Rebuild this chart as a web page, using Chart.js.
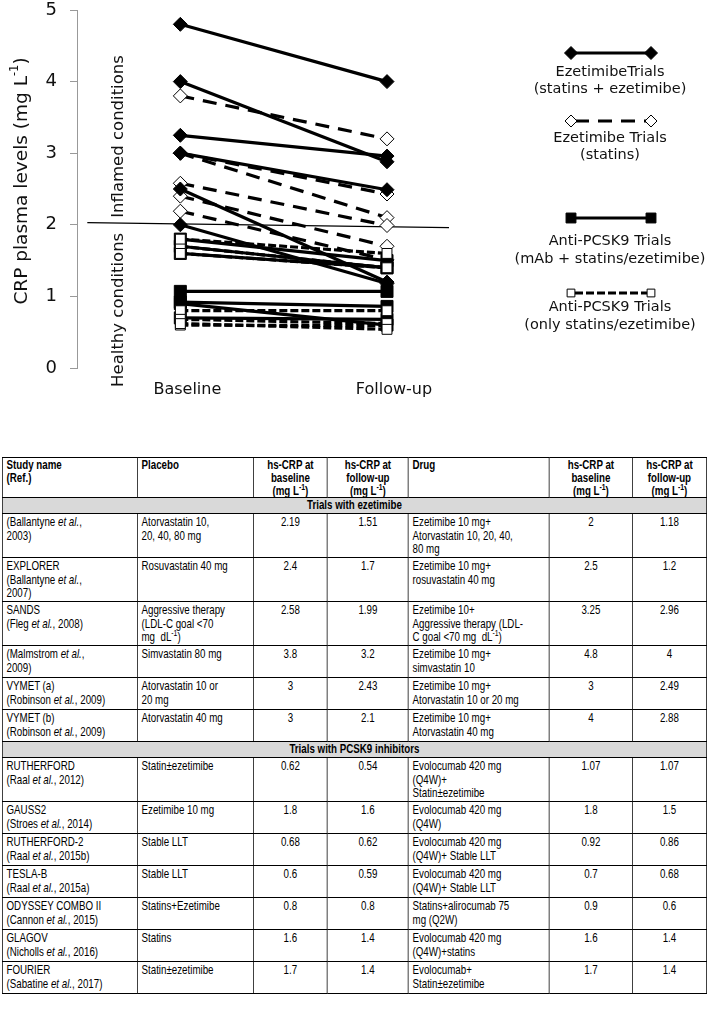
<!DOCTYPE html>
<html>
<head>
<meta charset="utf-8">
<script src="https://cdn.jsdelivr.net/npm/chart.js@4.4.0/dist/chart.umd.min.js"></script>
<style>
  html, body { margin: 0; padding: 0; background: #fff; }
  body { position: relative; width: 709px; height: 1016px; overflow: hidden; }
  #chartBox { position: absolute; left: 0; top: 0; width: 709px; height: 400px; }
  #crpTable {
    position: absolute; left: 2px; top: 457px; width: 938.7px;
    transform-origin: 0 0; transform: scaleX(0.75);
    border-collapse: collapse; table-layout: fixed;
    font-family: "Liberation Sans", Arial, sans-serif;
    font-size: 13px; line-height: 13.6px; color: #000;
  }
  #crpTable td { border-style: solid; border-color: #000; border-width: 1px 1.6px; padding: 1px 5px 1px 5px; vertical-align: top; white-space: nowrap; overflow: hidden; }
  #crpTable td.num { text-align: center; }
  #crpTable tr.head td { font-weight: bold; line-height: 13px; padding: 0 5px 0 5px; }
  #crpTable tr.band td { background: #d9d9d9; font-weight: bold; text-align: center; padding: 0 5px 1px 5px; }
  sup { font-size: 70%; line-height: 0; vertical-align: super; }
</style>
</head>
<body>
<div id="chartBox"><canvas id="crpChart" width="709" height="400"></canvas></div>
<table id="crpTable"></table>
<script>
// time points and axis
const timePoints = ['Baseline', 'Follow-up'];
const timeX = [0, 1];
const yTicks = [0, 1, 2, 3, 4, 5];

// healthy / inflamed threshold line (~2 mg/L)
const thresholdX = [-0.45, 1.30];
const thresholdY = [2.03, 1.96];

// trials with ezetimibe
const ezeStudies = [
  '(Ballantyne <i>et al.</i>,<br>2003)',
  'EXPLORER<br>(Ballantyne <i>et al.</i>,<br>2007)',
  'SANDS<br>(Fleg <i>et al.</i>, 2008)',
  '(Malmstrom <i>et al.</i>,<br>2009)',
  'VYMET (a)<br>(Robinson <i>et al.</i>, 2009)',
  'VYMET (b)<br>(Robinson <i>et al.</i>, 2009)'
];
const ezePlaceboNames = [
  'Atorvastatin 10,<br>20, 40, 80 mg',
  'Rosuvastatin 40 mg',
  'Aggressive therapy<br>(LDL-C goal &lt;70<br>mg &nbsp;dL<sup>-1</sup>)',
  'Simvastatin 80 mg',
  'Atorvastatin 10 or<br>20 mg',
  'Atorvastatin 40 mg'
];
const ezePlaceboBase = [2.19, 2.4, 2.58, 3.8, 3, 3];
const ezePlaceboFollow = [1.51, 1.7, 1.99, 3.2, 2.43, 2.1];
const ezeDrugNames = [
  'Ezetimibe 10 mg+<br>Atorvastatin 10, 20, 40,<br>80 mg',
  'Ezetimibe 10 mg+<br>rosuvastatin 40 mg',
  'Ezetimibe 10+<br>Aggressive therapy (LDL-<br>C goal &lt;70 mg &nbsp;dL<sup>-1</sup>)',
  'Ezetimibe 10 mg+<br>simvastatin 10',
  'Ezetimibe 10 mg+<br>Atorvastatin 10 or 20 mg',
  'Ezetimibe 10 mg+<br>Atorvastatin 40 mg'
];
const ezeDrugBase = [2, 2.5, 3.25, 4.8, 3, 4];
const ezeDrugFollow = [1.18, 1.2, 2.96, 4, 2.49, 2.88];

// trials with PCSK9 inhibitors
const pcskStudies = [
  'RUTHERFORD<br>(Raal <i>et al.</i>, 2012)',
  'GAUSS2<br>(Stroes <i>et al.</i>, 2014)',
  'RUTHERFORD-2<br>(Raal <i>et al.</i>, 2015b)',
  'TESLA-B<br>(Raal <i>et al.</i>, 2015a)',
  'ODYSSEY COMBO II<br>(Cannon <i>et al.</i>, 2015)',
  'GLAGOV<br>(Nicholls <i>et al.</i>, 2016)',
  'FOURIER<br>(Sabatine <i>et al.</i>, 2017)'
];
const pcskPlaceboNames = ['Statin±ezetimibe', 'Ezetimibe 10 mg', 'Stable LLT', 'Stable LLT', 'Statins+Ezetimibe', 'Statins', 'Statin±ezetimibe'];
const pcskPlaceboBase = [0.62, 1.8, 0.68, 0.6, 0.8, 1.6, 1.7];
const pcskPlaceboFollow = [0.54, 1.6, 0.62, 0.59, 0.8, 1.4, 1.4];
const pcskDrugNames = [
  'Evolocumab 420 mg<br>(Q4W)+<br>Statin±ezetimibe',
  'Evolocumab 420 mg<br>(Q4W)',
  'Evolocumab 420 mg<br>(Q4W)+ Stable LLT',
  'Evolocumab 420 mg<br>(Q4W)+ Stable LLT',
  'Statins+alirocumab 75<br>mg (Q2W)',
  'Evolocumab 420 mg<br>(Q4W)+statins',
  'Evolocumab+<br>Statin±ezetimibe'
];
const pcskDrugBase = [1.07, 1.8, 0.92, 0.7, 0.9, 1.6, 1.7];
const pcskDrugFollow = [1.07, 1.5, 0.86, 0.68, 0.6, 1.4, 1.4];

const legendLabels = [
  ['EzetimibeTrials', '(statins + ezetimibe)'],
  ['Ezetimibe Trials', '(statins)'],
  ['Anti-PCSK9 Trials', '(mAb + statins/ezetimibe)'],
  ['Anti-PCSK9 Trials', '(only statins/ezetimibe)']
];

// ---- styles ----
const ezeDrugStyle = { borderColor: '#000', borderWidth: 3.2, pointStyle: 'rectRot', pointRadius: 7,
  pointBackgroundColor: '#000', pointBorderColor: '#000', pointBorderWidth: 1 };
const ezePlaceboStyle = { borderColor: '#000', borderWidth: 3.2, borderDash: [14, 9], pointStyle: 'rectRot', pointRadius: 7,
  pointBackgroundColor: '#fff', pointBorderColor: '#000', pointBorderWidth: 1 };
const pcskDrugStyle = { borderColor: '#000', borderWidth: 3.2, pointStyle: 'rect', pointRadius: 8.5,
  pointBackgroundColor: '#000', pointBorderColor: '#000', pointBorderWidth: 1 };
const pcskPlaceboStyle = { borderColor: '#000', borderWidth: 3.2, borderDash: [8, 3], pointStyle: 'rect', pointRadius: 7,
  pointBackgroundColor: '#fff', pointBorderColor: '#000', pointBorderWidth: 1 };

function pairSets(base, follow, style) {
  return base.map((b, i) => Object.assign({
    data: [{ x: timeX[0], y: b }, { x: timeX[1], y: follow[i] }],
    clip: false, fill: false
  }, style));
}

// first dataset is drawn on top
const datasets = [].concat(
  pairSets(ezeDrugBase, ezeDrugFollow, ezeDrugStyle),
  pairSets(pcskPlaceboBase, pcskPlaceboFollow, pcskPlaceboStyle),
  pairSets(pcskDrugBase, pcskDrugFollow, pcskDrugStyle),
  pairSets(ezePlaceboBase, ezePlaceboFollow, ezePlaceboStyle),
  [{
    data: thresholdX.map((x, i) => ({ x: x, y: thresholdY[i] })),
    borderColor: '#000', borderWidth: 1.2, pointRadius: 0, fill: false, clip: false
  }]
);

function drawRich(ctx, parts, size) {
  // draws text with superscripts centred on (0,0)
  let total = 0;
  parts.forEach(p => {
    ctx.font = (p.sup ? size * 0.62 : size) + 'px "DejaVu Sans"';
    p.w = ctx.measureText(p.t).width;
    total += p.w;
  });
  let x = -total / 2;
  ctx.textAlign = 'left';
  ctx.textBaseline = 'middle';
  parts.forEach(p => {
    ctx.font = (p.sup ? size * 0.62 : size) + 'px "DejaVu Sans"';
    ctx.fillText(p.t, x, p.sup ? -size * 0.38 : 0);
    x += p.w;
  });
}

const figureText = {
  id: 'figureText',
  afterDraw(chart) {
    const ctx = chart.ctx;
    const ys = chart.scales.y, xs = chart.scales.x;
    ctx.save();
    ctx.fillStyle = '#111';

    // y axis title
    ctx.save();
    ctx.translate(22, 181);
    ctx.rotate(-Math.PI / 2);
    drawRich(ctx, [{ t: 'CRP plasma levels (mg L' }, { t: '-1', sup: true }, { t: ')' }], 18.5);
    ctx.restore();

    // condition labels either side of the 2 mg/L line
    const y2 = ys.getPixelForValue(2);
    const cx = xs.getPixelForValue(-0.3);
    ctx.font = '16.5px "DejaVu Sans"';
    ctx.textBaseline = 'middle';
    ctx.save();
    ctx.translate(cx, y2 - 7);
    ctx.rotate(-Math.PI / 2);
    ctx.textAlign = 'left';
    ctx.fillText('Inflamed conditions', 0, 0);
    ctx.restore();
    ctx.save();
    ctx.translate(cx, y2 + 8);
    ctx.rotate(-Math.PI / 2);
    ctx.textAlign = 'right';
    ctx.fillText('Healthy conditions', 0, 0);
    ctx.restore();

    // legend
    const styles = [ezeDrugStyle, ezePlaceboStyle, pcskDrugStyle, pcskPlaceboStyle];
    const sampleY = [53, 121, 218, 293];
    const textY = [[72, 89], [138, 155], [241, 259], [307, 325]];
    const radii = [6.5, 6, 7, 5.5];
    const lx0 = 571, lx1 = 651, lcx = 610;
    styles.forEach((st, i) => {
      ctx.save();
      ctx.strokeStyle = st.borderColor;
      ctx.lineWidth = 3;
      ctx.setLineDash(st.borderDash || []);
      ctx.beginPath();
      ctx.moveTo(lx0 + 4, sampleY[i]);
      ctx.lineTo(lx1 - 4, sampleY[i]);
      ctx.stroke();
      ctx.setLineDash([]);
      [lx0, lx1].forEach(px => {
        ctx.fillStyle = st.pointBackgroundColor;
        ctx.strokeStyle = st.pointBorderColor;
        ctx.lineWidth = 1;
        Chart.helpers.drawPoint(ctx, { pointStyle: st.pointStyle, radius: radii[i], rotation: 0, borderWidth: 1 }, px, sampleY[i]);
      });
      ctx.restore();
      ctx.fillStyle = '#111';
      ctx.font = '14.5px "DejaVu Sans"';
      ctx.textAlign = 'center';
      ctx.textBaseline = 'middle';
      legendLabels[i].forEach((t, j) => ctx.fillText(t, lcx, textY[i][j]));
    });
    ctx.restore();
  }
};

new Chart(document.getElementById('crpChart'), {
  type: 'line',
  data: { datasets: datasets },
  options: {
    responsive: false,
    animation: false,
    layout: { padding: { top: 10, right: 260, left: 0, bottom: 0 } },
    elements: { line: { tension: 0 } },
    plugins: { legend: { display: false }, tooltip: { enabled: false } },
    scales: {
      x: {
        type: 'linear', min: -0.5, max: 1.30,
        grid: { display: false, drawTicks: false },
        border: { display: false },
        afterBuildTicks: s => { s.ticks = timeX.map(v => ({ value: v })); },
        afterFit: s => { s.height = 32; s.paddingLeft = 0; s.paddingRight = 0; },
        ticks: {
          callback: v => timePoints[timeX.indexOf(v)],
          font: { family: 'DejaVu Sans', size: 16 }, color: '#111',
          padding: 12, labelOffset: 7, maxRotation: 0, autoSkip: false
        }
      },
      y: {
        min: yTicks[0], max: yTicks[yTicks.length - 1],
        afterBuildTicks: s => { s.ticks = yTicks.map(v => ({ value: v })); },
        afterFit: s => { s.width = 77; s.paddingTop = 0; s.paddingBottom = 0; },
        grid: { drawOnChartArea: false, tickLength: 7, color: '#999' },
        border: { color: '#999' },
        ticks: { font: { family: 'DejaVu Sans', size: 18 }, color: '#111', padding: 13 }
      }
    }
  },
  plugins: [figureText]
});

// ---- table ----
const fmt = v => String(v);
const mgL = '(mg L<sup>-1</sup>)';
const colW = [135, 116, 74, 81, 141, 83, 74].map(w => (w / 0.75).toFixed(1));
let html = '<colgroup>' + colW.map(w => '<col style="width:' + w + 'px">').join('') + '</colgroup>';
html += '<tr class="head" style="height:40px"><td>Study name<br>(Ref.)</td><td>Placebo</td>' +
  '<td class="num">hs-CRP at<br>baseline<br>' + mgL + '</td><td class="num">hs-CRP at<br>follow-up<br>' + mgL + '</td>' +
  '<td>Drug</td><td class="num">hs-CRP at<br>baseline<br>' + mgL + '</td><td class="num">hs-CRP at<br>follow-up<br>' + mgL + '</td></tr>';
function addGroup(title, studies, pNames, pB, pF, dNames, dB, dF) {
  html += '<tr class="band" style="height:16px"><td colspan="7">' + title + '</td></tr>';
  studies.forEach((s, i) => {
    const lines = Math.max.apply(null, [s, pNames[i], dNames[i]].map(t => t.split('<br>').length));
    html += '<tr style="height:' + (lines > 2 ? 44 : 32) + 'px"><td>' + s + '</td><td>' + pNames[i] + '</td><td class="num">' + fmt(pB[i]) + '</td><td class="num">' + fmt(pF[i]) +
      '</td><td>' + dNames[i] + '</td><td class="num">' + fmt(dB[i]) + '</td><td class="num">' + fmt(dF[i]) + '</td></tr>';
  });
}
addGroup('Trials with ezetimibe', ezeStudies, ezePlaceboNames, ezePlaceboBase, ezePlaceboFollow, ezeDrugNames, ezeDrugBase, ezeDrugFollow);
addGroup('Trials with PCSK9 inhibitors', pcskStudies, pcskPlaceboNames, pcskPlaceboBase, pcskPlaceboFollow, pcskDrugNames, pcskDrugBase, pcskDrugFollow);
document.getElementById('crpTable').innerHTML = html;
</script>
</body>
</html>
